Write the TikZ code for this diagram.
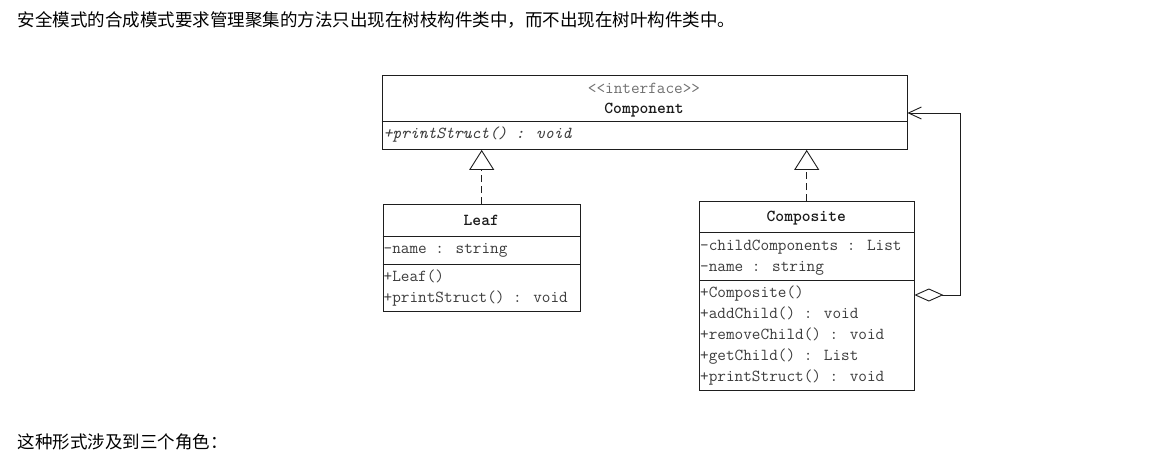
\documentclass[tikz,border=0pt]{standalone}
\usepackage{fontspec}
\usetikzlibrary{arrows.meta,calc}
\newfontfamily\cjk{Noto Sans CJK SC}
\newcommand\umlfont{\ttfamily\fontsize{16.76}{20}\selectfont}
\definecolor{linec}{HTML}{1E1E1E}
\definecolor{txt}{HTML}{3C3C3C}
\definecolor{txtdark}{HTML}{1A1A1A}
\definecolor{stereo}{HTML}{707070}
\tikzset{
  classbox/.style={draw=linec, line width=0.9pt, rectangle, inner sep=0pt, anchor=north west},
  sepline/.style={draw=linec, line width=0.9pt},
  member/.style={anchor=west, inner sep=0pt, text height=10pt, text depth=0pt, text=txt, font=\umlfont},
  imember/.style={member, font=\umlfont\itshape},
  ctitle/.style={anchor=center, inner sep=0pt, text height=10pt, text depth=0pt, text=txtdark, font=\umlfont\bfseries},
  stereotype/.style={ctitle, text=stereo, font=\umlfont},
  realize/.style={draw=linec, line width=0.9pt, dash pattern=on 7pt off 4pt, -{Triangle[open,length=20pt,width=25pt]}},
  aggregate/.style={draw=linec, line width=0.9pt, {Diamond[open,length=29pt,width=13pt]}-{Straight Barb[length=13pt,width=12pt]}},
  prose/.style={anchor=west, inner sep=0pt, text=black, font=\cjk\fontsize{17.5}{20}\selectfont}
}
\begin{document}
\begin{tikzpicture}[x=1pt,y=-1pt]
\useasboundingbox[fill=white] (0,0) rectangle (1168,450);

\node[prose] (intro) at (17.5,19.5) {安全模式的合成模式要求管理聚集的方法只出现在树枝构件类中，而不出现在树叶构件类中。};
\node[prose] (roles) at (17.5,441.5) {这种形式涉及到三个角色：};

% Component
\node[classbox, minimum width=525pt, minimum height=74pt] (component) at (381.5,75) {};
\draw[sepline] ($(component.north west)+(0,46)$) -- ($(component.north east)+(0,46)$);
\node[stereotype] (cstereo) at (644,88) {<\kern0pt<interface>\kern0pt>};
\node[ctitle] (cname) at (644,108) {Component};
\node[imember] (cm1) at (383.5,133) {+printStruct() : void};

% Leaf
\node[classbox, minimum width=197.5pt, minimum height=107pt] (leaf) at (382.5,204) {};
\draw[sepline] ($(leaf.north west)+(0,32.5)$) -- ($(leaf.north east)+(0,32.5)$);
\draw[sepline] ($(leaf.north west)+(0,60)$) -- ($(leaf.north east)+(0,60)$);
\node[ctitle] (lname) at (481.25,220) {Leaf};
\node[member] (la1) at (383.5,248) {-name : string};
\node[member] (lm1) at (383.5,276) {+Leaf()};
\node[member] (lm2) at (383.5,297) {+printStruct() : void};

% Composite
\node[classbox, minimum width=214.5pt, minimum height=188.5pt] (composite) at (699,201) {};
\draw[sepline] ($(composite.north west)+(0,31.5)$) -- ($(composite.north east)+(0,31.5)$);
\draw[sepline] ($(composite.north west)+(0,79)$) -- ($(composite.north east)+(0,79)$);
\node[ctitle] (kname) at (806.25,216.5) {Composite};
\node[member] (ka1) at (700,245.5) {-childComponents : List};
\node[member] (ka2) at (700,266) {-name : string};
\node[member] (km1) at (700,292.5) {+Composite()};
\node[member] (km2) at (700,313.5) {+addChild() : void};
\node[member] (km3) at (700,334.5) {+removeChild() : void};
\node[member] (km4) at (700,355.5) {+getChild() : List};
\node[member] (km5) at (700,376.5) {+printStruct() : void};

% Connectors
\draw[realize] (leaf.north) -- (leaf.north |- component.south);
\draw[realize] (composite.north) -- (composite.north |- component.south);
\coordinate (aggstart) at ($(composite.north east)+(0,94)$);
\coordinate (aggend) at ($(component.north east)+(0,38)$);
\draw[aggregate] (aggstart) -- ++(46.5,0) |- (aggend);
\end{tikzpicture}
\end{document}
